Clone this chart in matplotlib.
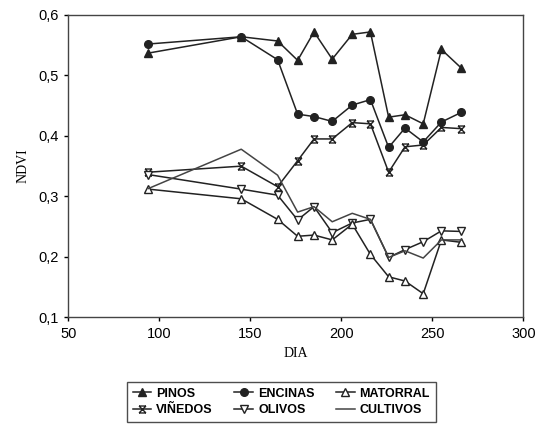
import numpy as np
import matplotlib
matplotlib.use("Agg")
import matplotlib.pyplot as plt
from matplotlib.path import Path

# values (DIA vs NDVI)
dias = [94, 145, 165, 176, 185, 195, 206, 216, 226, 235, 245, 255, 266]
pinos = [0.537, 0.564, 0.557, 0.525, 0.572, 0.527, 0.568, 0.572, 0.431, 0.435, 0.420, 0.543, 0.512]
encinas = [0.552, 0.564, 0.526, 0.436, 0.432, 0.424, 0.451, 0.460, 0.381, 0.413, 0.390, 0.423, 0.439]
matorral = [0.312, 0.296, 0.262, 0.234, 0.236, 0.228, 0.254, 0.204, 0.167, 0.160, 0.139, 0.228, 0.224]
vinedos = [0.340, 0.350, 0.316, 0.359, 0.395, 0.395, 0.422, 0.420, 0.340, 0.382, 0.385, 0.414, 0.412]
olivos = [0.336, 0.312, 0.302, 0.261, 0.283, 0.240, 0.256, 0.262, 0.199, 0.212, 0.225, 0.243, 0.242]
cultivos = [0.313, 0.378, 0.335, 0.274, 0.283, 0.258, 0.272, 0.262, 0.199, 0.210, 0.198, 0.228, 0.228]

x_ticks = [50, 100, 150, 200, 250, 300]
y_ticks = [0.1, 0.2, 0.3, 0.4, 0.5, 0.6]
y_ticklabels = ["0,1", "0,2", "0,3", "0,4", "0,5", "0,6"]

# hourglass-with-cross marker for VIÑEDOS
hour = Path(
    [(-1, 1), (1, 1), (-1, -1), (1, -1), (-1, 1), (1, -1), (1, 1), (-1, -1)],
    [Path.MOVETO, Path.LINETO, Path.MOVETO, Path.LINETO,
     Path.MOVETO, Path.LINETO, Path.MOVETO, Path.LINETO],
)

fig = plt.figure(figsize=(5.47, 4.32), dpi=100)
ax = fig.add_axes([0.1249, 0.2655, 0.8318, 0.6998])

lc = "#222222"
lw = 1.1
ax.plot(dias, pinos, color=lc, lw=lw, marker="^", ms=6, mfc=lc, mec=lc, label="PINOS")
ax.plot(dias, vinedos, color=lc, lw=lw, marker=hour, ms=5, mew=1.0, mfc="none", mec=lc, label="VIÑEDOS")
ax.plot(dias, encinas, color=lc, lw=lw, marker="o", ms=5.5, mfc=lc, mec=lc, label="ENCINAS")
ax.plot(dias, olivos, color=lc, lw=lw, marker="v", ms=6, mfc="white", mec=lc, label="OLIVOS")
ax.plot(dias, matorral, color=lc, lw=lw, marker="^", ms=6, mfc="white", mec=lc, label="MATORRAL")
ax.plot(dias, cultivos, color="#444444", lw=lw, label="CULTIVOS")

ax.set_xlim(50, 300)
ax.set_ylim(0.1, 0.6)
ax.set_xticks(x_ticks)
ax.set_yticks(y_ticks)
ax.set_yticklabels(y_ticklabels)
ax.tick_params(direction="out", length=3, width=1, labelsize=10.5, pad=4,
               top=False, right=False)
for lab in ax.get_xticklabels() + ax.get_yticklabels():
    lab.set_family("Liberation Sans")
for sp in ax.spines.values():
    sp.set_linewidth(1.0)
    sp.set_color("#444444")

ax.set_xlabel("DIA", family="Liberation Serif", fontsize=10, labelpad=4)
ax.set_ylabel("NDVI", family="Liberation Serif", fontsize=10, labelpad=6)

leg = fig.legend(loc="lower left", bbox_to_anchor=(0.2207, 0.009, 0.587, 0.105),
                 mode="expand", ncol=3, frameon=True, fancybox=False,
                 edgecolor="#222222", handlelength=1.5, handletextpad=0.4,
                 columnspacing=1.0, borderpad=0.45, labelspacing=0.35,
                 prop={"family": "Liberation Sans", "weight": "bold", "size": 9})
leg.get_frame().set_linewidth(1.0)

fig.savefig("out.png", dpi=100)
